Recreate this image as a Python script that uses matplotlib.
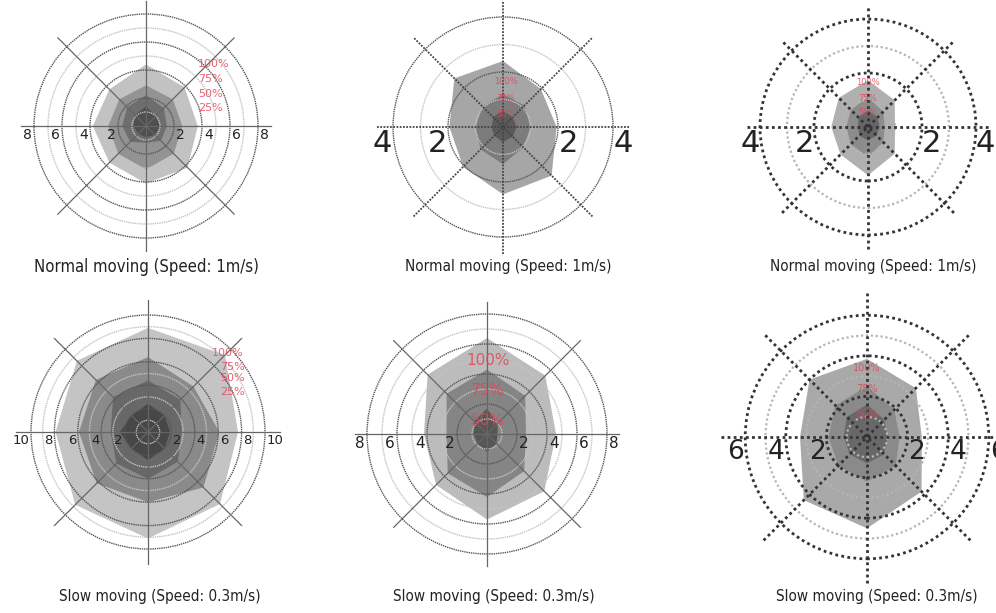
import numpy as np
import matplotlib
matplotlib.use("Agg")
import matplotlib.pyplot as plt
from matplotlib.patches import Circle, Polygon

# spoke order: E, NE, N, NW, W, SW, S, SE
angles = np.deg2rad(np.arange(8) * 45)

captions = ["Normal moving (Speed: 1m/s)"] * 3 + ["Slow moving (Speed: 0.3m/s)"] * 3
ring_max = [8, 4, 4, 10, 8, 6]

# layers from outermost (100%) to innermost
p1_layers = [[3.7, 3.9, 4.4, 3.7, 3.8, 3.7, 4.1, 4.2],
             [2.6, 2.7, 2.9, 2.7, 2.7, 2.8, 3.1, 2.8],
             [1.5, 1.8, 2.2, 1.9, 1.7, 1.6, 1.2, 1.5],
             [1.0, 1.0, 1.4, 1.1, 0.9, 0.8, 0.8, 0.9]]
p2_layers = [[1.95, 1.95, 2.4, 2.5, 1.95, 2.05, 2.45, 2.5],
             [1.0, 1.1, 1.2, 1.05, 1.0, 1.15, 1.35, 1.05],
             [0.5, 0.5, 0.6, 0.5, 0.42, 0.45, 0.55, 0.5]]
p3_layers = [[1.0, 1.4, 1.73, 1.53, 1.36, 1.44, 1.79, 1.4],
             [0.62, 0.8, 1.1, 0.9, 0.8, 0.9, 1.1, 0.8],
             [0.43, 0.5, 0.62, 0.5, 0.37, 0.45, 0.5, 0.45]]
p4_layers = [[7.7, 9.3, 8.9, 8.6, 7.9, 8.8, 9.1, 8.7],
             [6.1, 5.5, 6.4, 6.3, 5.9, 6.2, 6.0, 6.7],
             [2.9, 3.9, 4.4, 4.2, 3.2, 3.8, 4.0, 3.6],
             [1.9, 2.0, 2.4, 2.0, 2.4, 2.0, 2.4, 2.0]]
p5_layers = [[4.6, 5.5, 6.4, 5.6, 4.2, 4.8, 5.7, 5.4],
             [2.6, 3.6, 4.3, 3.8, 2.7, 3.7, 4.2, 3.5],
             [0.7, 1.0, 1.7, 1.2, 0.9, 0.9, 1.2, 0.9]]
p6_layers = [[2.7, 3.4, 3.85, 4.0, 3.3, 4.4, 4.5, 3.8],
             [1.6, 1.9, 2.5, 2.2, 1.9, 2.0, 2.2, 2.0],
             [1.0, 1.2, 1.6, 1.4, 1.15, 1.2, 1.3, 1.2]]
all_layers = [p1_layers, p2_layers, p3_layers, p4_layers, p5_layers, p6_layers]

pct_labels_4 = ["100%", "75%", "50%", "25%"]
pct_labels_3 = ["100%", "75%", "50%"]

# layout in pixels: centre x, centre y (from top), px per unit
centres = [(146, 126), (503, 127), (868, 127), (148, 432), (487, 434), (867, 437)]
units = [14, 27.5, 27, 11.7, 15, 20.3]
spoke_len = [8.9, 4.6, 4.5, 11.3, 8.8, 7.2]
caption_pos = [(146, 267), (508, 267), (873, 267), (160, 596), (494, 596), (877, 596)]
caption_size = [12, 11, 11, 11, 11, 11]
tick_size = [10, 22, 22, 9.5, 11, 19]
tick_pad = [0.15, 0.03, 0.0, 0.15, 0.15, 0.05]
pct_size = [8, 6, 6, 8, 11, 7]
pct_pos = [[(4.8, 4.43), (4.6, 3.36), (4.6, 2.29), (4.6, 1.29)],
           [(0.1, 1.67), (0.1, 1.05), (0.1, 0.44)],
           [(0.0, 1.63), (0.0, 1.07), (0.0, 0.52)],
           [(6.8, 6.75), (7.2, 5.56), (7.2, 4.6), (7.2, 3.4)],
           [(0.07, 4.93), (0.07, 2.87), (0.07, 0.87)],
           [(0.0, 3.4), (0.0, 2.36), (0.0, 1.13)]]
fills = [["#c2c2c2", "#939393", "#6e6e6e", "#4f4f4f"],
         ["#a6a6a6", "#7c7c7c", "#5a5a5a"],
         ["#b0b0b0", "#8c8c8c", "#666666"],
         ["#c4c4c4", "#8a8a8a", "#686868", "#474747"],
         ["#bcbcbc", "#858585", "#565656"],
         ["#a9a9a9", "#8a8a8a", "#686868"]]
heavy = [False, False, True, False, False, True]
solid_spokes = [True, False, False, True, True, False]

W, H = 996, 613
fig = plt.figure(figsize=(W / 100, H / 100), dpi=100)
fig.patch.set_facecolor("white")

for i in range(6):
    cx, cy = centres[i]
    u = units[i]
    R = ring_max[i]
    L = R * 1.45
    ax = fig.add_axes([(cx - L * u) / W, (H - cy - L * u) / H, 2 * L * u / W, 2 * L * u / H])
    ax.set_xlim(-L, L)
    ax.set_ylim(-L, L)
    ax.set_aspect("equal")
    ax.axis("off")

    # filled layers
    for vals, col in zip(all_layers[i], fills[i]):
        r = np.array(vals)
        pts = np.column_stack([r * np.cos(angles), r * np.sin(angles)])
        ax.add_patch(Polygon(pts, closed=True, facecolor=col, edgecolor="none", zorder=1))

    # rings
    if heavy[i]:
        dark = dict(ls=(0, (1, 1.2)), lw=2.0, ec="#333333")
        light = dict(ls=(0, (1, 1.2)), lw=1.6, ec="#b5b5b5")
    else:
        dark = dict(ls=(0, (1, 0.6)), lw=1.0, ec="#555555")
        light = dict(ls=(0, (1, 0.6)), lw=1.0, ec="#c4c4c4")
    for v in range(1, R + 1):
        st = dark if v % 2 == 0 else light
        ax.add_patch(Circle((0, 0), v, fill=False, zorder=2, **st))

    # spokes
    for a in angles[:4]:
        s = spoke_len[i]
        xs = [-s * np.cos(a), s * np.cos(a)]
        ys = [-s * np.sin(a), s * np.sin(a)]
        if solid_spokes[i]:
            ax.plot(xs, ys, color="#666666", lw=0.9, zorder=3, clip_on=False)
        elif heavy[i]:
            ax.plot(xs, ys, color="#333333", lw=2.0, ls=(0, (1, 1.2)), zorder=3, clip_on=False)
        else:
            ax.plot(xs, ys, color="#444444", lw=1.3, ls=(0, (1, 0.8)), zorder=3, clip_on=False)

    # axis numbers
    pad = tick_pad[i]
    for v in range(2, R + 1, 2):
        ax.text(v + pad, -0.06 * R / 4, str(v), ha="left", va="top",
                fontsize=tick_size[i], color="#222222", zorder=4)
        ax.text(-v - pad, -0.06 * R / 4, str(v), ha="right", va="top",
                fontsize=tick_size[i], color="#222222", zorder=4)

    # percentage labels
    labs = pct_labels_4 if len(all_layers[i]) == 4 else pct_labels_3
    for lab, (px, py) in zip(labs, pct_pos[i]):
        ax.text(px, py, lab, ha="center", va="center", fontsize=pct_size[i],
                color="#e0485a", alpha=0.85, zorder=5)

    tx, ty = caption_pos[i]
    fig.text(tx / W, 1 - ty / H, captions[i], ha="center", va="center",
             fontsize=caption_size[i], fontstretch="condensed", color="#222222")

fig.savefig("out.png", dpi=100, facecolor="white")
